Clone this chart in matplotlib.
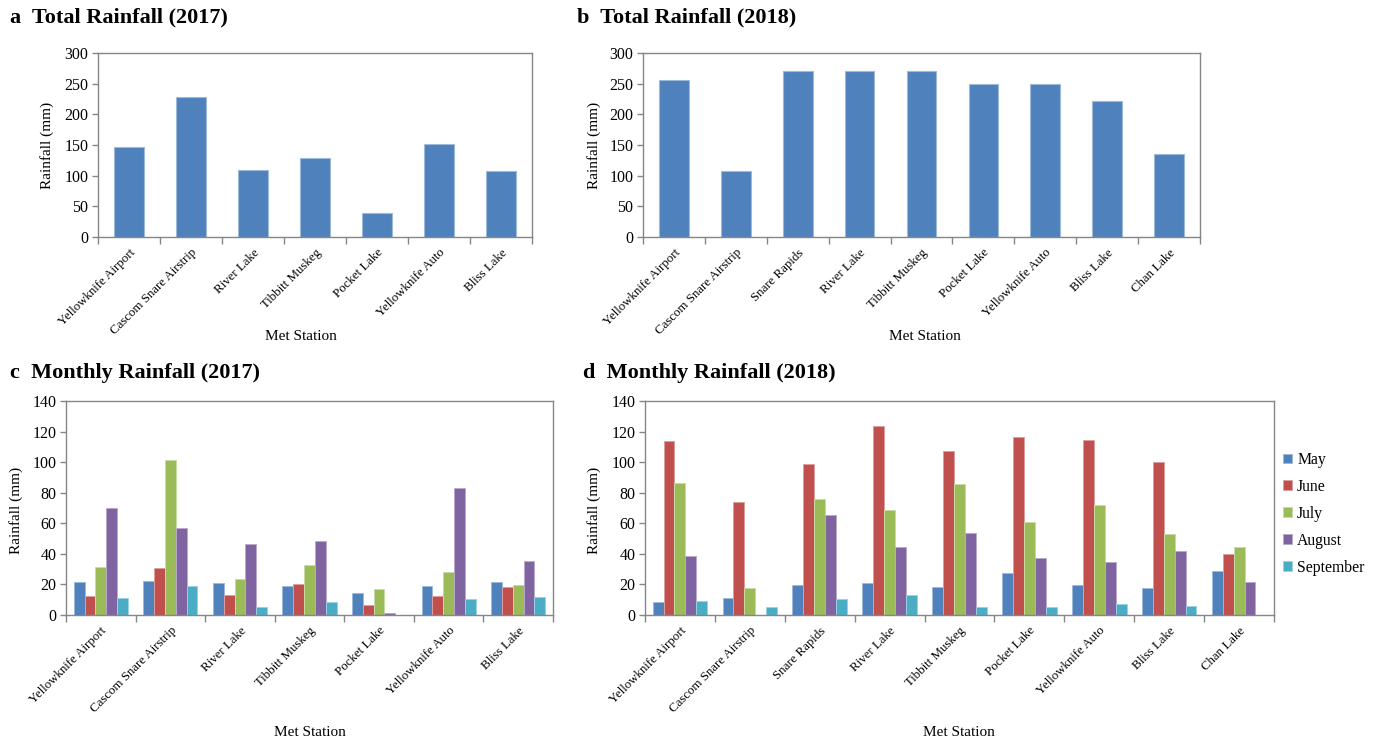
import matplotlib
matplotlib.use("Agg")
import matplotlib.pyplot as plt
import matplotlib.patches as mpatches
import numpy as np
from matplotlib.colors import to_rgb

plt.rcParams['font.family'] = ['Liberation Serif', 'DejaVu Serif']

# ---- data -------------------------------------------------------------
stations_2017 = ["Yellowknife Airport", "Cascom Snare Airstrip", "River Lake",
                 "Tibbitt Muskeg", "Pocket Lake", "Yellowknife Auto", "Bliss Lake"]
stations_2018 = ["Yellowknife Airport", "Cascom Snare Airstrip", "Snare Rapids",
                 "River Lake", "Tibbitt Muskeg", "Pocket Lake", "Yellowknife Auto",
                 "Bliss Lake", "Chan Lake"]

total_2017 = [147, 229, 110, 128, 39, 152, 107]
total_2018 = [256, 108, 270, 271, 270, 249, 249, 221, 136]

months = ["May", "June", "July", "August", "September"]

may_2017 = [21.8, 22.3, 21.2, 18.8, 14.4, 18.8, 21.8]
jun_2017 = [12.4, 31.0, 12.9, 20.3, 6.6, 12.4, 18.3]
jul_2017 = [31.4, 101.3, 23.8, 33.0, 16.8, 28.2, 19.7]
aug_2017 = [70.3, 57.2, 46.5, 48.7, 1.5, 83.0, 35.6]
sep_2017 = [11.4, 19.2, 5.5, 8.5, 0.0, 10.5, 12.0]

may_2018 = [8.5, 10.9, 19.8, 21.1, 18.3, 27.5, 19.5, 17.8, 28.8]
jun_2018 = [114.1, 73.9, 98.5, 123.9, 107.2, 116.4, 114.6, 99.8, 39.6]
jul_2018 = [86.3, 17.6, 75.9, 68.5, 85.4, 60.6, 71.9, 53.3, 44.2]
aug_2018 = [38.9, 0.0, 65.2, 44.6, 53.4, 37.6, 34.7, 42.0, 21.8]
sep_2018 = [9.1, 5.0, 10.4, 12.8, 5.2, 5.0, 7.2, 5.6, 0.0]

# ---- style ------------------------------------------------------------
month_colors = ["#4F81BD", "#C0504D", "#9BBB59", "#8064A2", "#4BACC6"]
axis_grey = "#868686"
W, H = 1380, 742


def lighter(c, f=0.45):
    r, g, b = to_rgb(c)
    return (r + (1 - r) * f, g + (1 - g) * f, b + (1 - b) * f)


def px_axes(fig, left, top, right, bottom):
    return fig.add_axes([left / W, 1 - bottom / H, (right - left) / W, (bottom - top) / H])


def style_axes(ax, labels, ymax, ystep):
    n = len(labels)
    ax.set_xlim(-0.5, n - 0.5)
    ax.set_ylim(0, ymax)
    ax.set_yticks(np.arange(0, ymax + 1, ystep))
    ax.set_xticks(np.arange(-0.5, n, 1.0))
    ax.set_xticklabels([])
    ax.set_xticks(np.arange(n), minor=True)
    ax.set_xticklabels(labels, minor=True, rotation=45, ha="right",
                       rotation_mode="anchor", fontsize=9.3)
    ax.tick_params(axis="x", which="major", length=5, width=1, color=axis_grey)
    ax.tick_params(axis="x", which="minor", length=0, pad=7)
    ax.tick_params(axis="y", length=4, width=1, color=axis_grey, labelsize=11.5, pad=3)
    for s in ax.spines.values():
        s.set_color(axis_grey)
        s.set_linewidth(1.0)


def total_panel(ax, labels, values):
    x = np.arange(len(labels))
    ax.bar(x, values, width=0.48, color=month_colors[0],
           edgecolor=lighter(month_colors[0]), linewidth=0.8, zorder=2)
    style_axes(ax, labels, 300, 50)


def monthly_panel(ax, labels, series):
    x = np.arange(len(labels))
    group = 0.78
    bw = group / len(series)
    for i, vals in enumerate(series):
        offs = -group / 2 + bw * (i + 0.5)
        ax.bar(x + offs, vals, width=bw, color=month_colors[i],
               edgecolor=lighter(month_colors[i]), linewidth=0.7, zorder=2)
    style_axes(ax, labels, 140, 20)


fig = plt.figure(figsize=(W / 100, H / 100), dpi=100)

ax_a = px_axes(fig, 98, 53, 532, 237)
ax_b = px_axes(fig, 643, 53, 1200, 237)
ax_c = px_axes(fig, 66, 401, 553, 615)
ax_d = px_axes(fig, 645, 401, 1274, 615)

total_panel(ax_a, stations_2017, total_2017)
total_panel(ax_b, stations_2018, total_2018)
monthly_panel(ax_c, stations_2017, [may_2017, jun_2017, jul_2017, aug_2017, sep_2017])
monthly_panel(ax_d, stations_2018, [may_2018, jun_2018, jul_2018, aug_2018, sep_2018])


def ftext(x, y, s, **kw):
    fig.text(x / W, 1 - y / H, s, **kw)


# panel titles
title_kw = dict(fontsize=16, fontweight="bold", va="center", ha="left")
ftext(10, 17, "a  Total Rainfall (2017)", **title_kw)
ftext(577, 17, "b  Total Rainfall (2018)", **title_kw)
ftext(10, 373, "c  Monthly Rainfall (2017)", **title_kw)
ftext(583, 373, "d  Monthly Rainfall (2018)", **title_kw)

# axis titles
ylab_kw = dict(fontsize=11, rotation=90, va="center", ha="center")
ftext(47, 145, "Rainfall (mm)", **ylab_kw)
ftext(594, 145, "Rainfall (mm)", **ylab_kw)
ftext(16, 510, "Rainfall (mm)", **ylab_kw)
ftext(594, 510, "Rainfall (mm)", **ylab_kw)

xlab_kw = dict(fontsize=11, va="center", ha="center")
ftext(301, 337, "Met Station", **xlab_kw)
ftext(925, 337, "Met Station", **xlab_kw)
ftext(310, 733, "Met Station", **xlab_kw)
ftext(959, 733, "Met Station", **xlab_kw)

# legend for the monthly panels
handles = [mpatches.Patch(facecolor=c, edgecolor=lighter(c), linewidth=0.7, label=m)
           for c, m in zip(month_colors, months)]
fig.legend(handles=handles, loc="center left", bbox_to_anchor=(1283 / W, 1 - 514 / H),
           frameon=False, fontsize=11.3, handlelength=0.6, handleheight=0.6,
           handletextpad=0.3, labelspacing=0.7, borderpad=0, borderaxespad=0)

fig.savefig("out.png", dpi=100)
